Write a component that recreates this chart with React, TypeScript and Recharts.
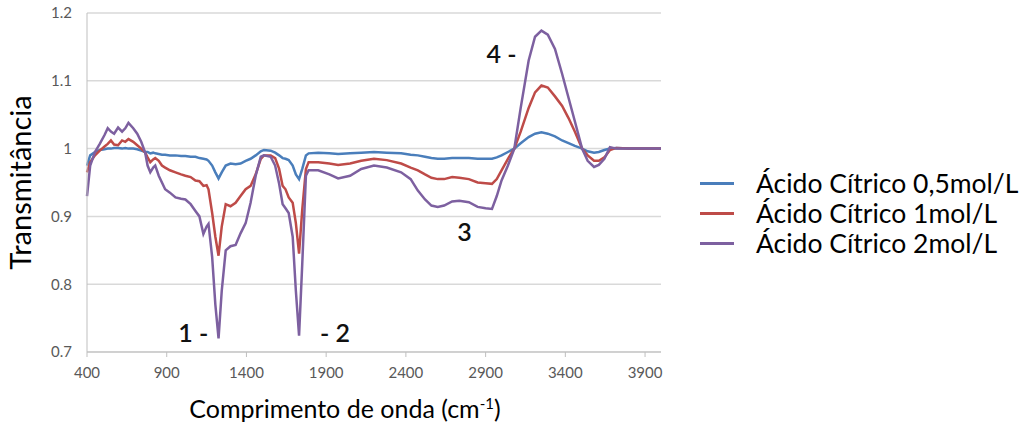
import { LineChart, Line, XAxis, YAxis, CartesianGrid, ReferenceDot } from "recharts"

// wavenumber grid (cm-1)
const wavenumbers = [
  400, 420, 450, 480, 510, 530, 550, 570, 595, 620, 640, 660, 690, 715, 740, 765, 780, 797, 815, 828,
  850, 870, 890, 920, 955, 990, 1017, 1050, 1080, 1105, 1130, 1150, 1162, 1185, 1205, 1225, 1245, 1270, 1300, 1332,
  1363, 1395, 1426, 1458, 1490, 1510, 1552, 1580, 1605, 1627, 1645, 1665, 1690, 1710, 1730, 1750, 1773, 1790, 1850, 1920,
  1975, 2050, 2120, 2200, 2280, 2370, 2430, 2475, 2520, 2560, 2600, 2640, 2690, 2735, 2795, 2850, 2900, 2940, 2970, 3000,
  3040, 3080, 3120, 3170, 3210, 3250, 3290, 3335, 3380, 3420, 3460, 3505, 3540, 3580, 3610, 3645, 3680, 3720, 3800, 3900,
  4000,
]

const acido05 = [
  0.975, 0.99, 0.995, 0.998, 0.999, 1.0, 1.0, 1.001, 1.001, 1.0, 1.001, 1.0, 1.0, 0.999, 0.997, 0.995, 0.995, 0.993, 0.994, 0.993,
  0.992, 0.991, 0.991, 0.99, 0.99, 0.989, 0.989, 0.988, 0.988, 0.986, 0.985, 0.984, 0.982, 0.975, 0.965, 0.956, 0.965, 0.975, 0.978, 0.977,
  0.978, 0.982, 0.985, 0.99, 0.996, 0.998, 0.997, 0.994, 0.99, 0.986, 0.985, 0.983, 0.975, 0.962, 0.955, 0.97, 0.99, 0.993, 0.994, 0.993,
  0.992, 0.993, 0.994, 0.995, 0.994, 0.993, 0.991, 0.99, 0.988, 0.986, 0.985, 0.985, 0.986, 0.986, 0.986, 0.985, 0.985, 0.985, 0.987, 0.99,
  0.995, 1.0, 1.008, 1.017, 1.022, 1.024, 1.022, 1.018, 1.012, 1.008, 1.004, 1.0, 0.996, 0.994, 0.995, 0.998, 1.0, 1.001, 1.0, 1.0,
  1.0,
]

const acido1 = [
  0.965, 0.98, 0.99, 0.997, 1.003, 1.007, 1.012, 1.006, 1.005, 1.012, 1.01, 1.014, 1.01, 1.005, 1.0, 0.994, 0.987, 0.98, 0.984, 0.986,
  0.982, 0.975, 0.972, 0.968, 0.965, 0.962, 0.96, 0.958, 0.953, 0.952, 0.945, 0.946, 0.94, 0.905, 0.87, 0.842, 0.885, 0.918, 0.915, 0.92,
  0.93, 0.94, 0.945, 0.962, 0.985, 0.99, 0.99, 0.986, 0.97, 0.945, 0.94, 0.928, 0.92, 0.89, 0.845, 0.91, 0.97, 0.98, 0.98, 0.978,
  0.976, 0.978, 0.982, 0.985, 0.983, 0.978, 0.972, 0.968, 0.962, 0.957, 0.955, 0.955, 0.958, 0.957, 0.955, 0.95, 0.949, 0.948, 0.955, 0.968,
  0.985, 1.0, 1.025, 1.06, 1.083, 1.093, 1.09, 1.077, 1.063, 1.045, 1.025, 1.0, 0.99, 0.982, 0.982, 0.987, 0.998, 1.001, 1.0, 1.0,
  1.0,
]

const acido2 = [
  0.93, 0.975, 0.995, 1.007, 1.02, 1.03, 1.025, 1.022, 1.031, 1.025, 1.03, 1.038, 1.03, 1.022, 1.01, 0.994, 0.975, 0.965, 0.972, 0.975,
  0.96, 0.95, 0.94, 0.935, 0.928, 0.926, 0.925, 0.918, 0.908, 0.9, 0.874, 0.885, 0.889, 0.84, 0.77, 0.72, 0.79, 0.85, 0.856, 0.858,
  0.875, 0.89, 0.92, 0.96, 0.988, 0.99, 0.988, 0.975, 0.948, 0.918, 0.912, 0.905, 0.87, 0.79, 0.724, 0.83, 0.96, 0.968, 0.968, 0.962,
  0.956, 0.96, 0.97, 0.975, 0.972, 0.965, 0.955, 0.938, 0.925, 0.916, 0.914, 0.916, 0.922, 0.923, 0.921, 0.914, 0.912, 0.911, 0.93, 0.953,
  0.975, 1.0, 1.06, 1.13, 1.165, 1.174, 1.168, 1.147, 1.11, 1.075, 1.04, 1.0, 0.982, 0.973, 0.976, 0.985, 1.002, 1.0, 1.0, 1.0,
  1.0,
]

const xTicks = [400, 900, 1400, 1900, 2400, 2900, 3400, 3900]
const yTicks = [0.7, 0.8, 0.9, 1, 1.1, 1.2]

const seriesNames = ["Ácido Cítrico 0,5mol/L", "Ácido Cítrico 1mol/L", "Ácido Cítrico 2mol/L"]
const seriesColors = ["#4a7ebb", "#be4b48", "#7d60a0"]

// band labels placed in data coordinates
const bandWn = [1067, 1955, 2768, 3000]
const bandT = [0.728, 0.728, 0.877, 1.14]
const bandText = ["1 -", "- 2", "3", "4 -"]

const data = wavenumbers.map((wn, i) => ({
  wn,
  s0: acido05[i],
  s1: acido1[i],
  s2: acido2[i],
}))

const FONT = "Lato, 'Open Sans', sans-serif"

function XTitle() {
  return (
    <text x={345} y={418} textAnchor="middle" fontFamily={FONT} fontSize={25} fill="#000">
      Comprimento de onda (cm
      <tspan baselineShift="super" fontSize={15}>-1</tspan>
      <tspan>)</tspan>
    </text>
  )
}

function LegendBox() {
  return (
    <div
      style={{
        position: "absolute",
        left: 700,
        top: 168,
        width: 326,
        fontFamily: FONT,
      }}
    >
      {seriesNames.map((name, i) => (
        <div key={name} style={{ display: "flex", alignItems: "center", height: 30 }}>
          <div style={{ width: 34, height: 3, background: seriesColors[i], marginRight: 22 }} />
          <span style={{ fontSize: 26.5, color: "#000", whiteSpace: "nowrap", lineHeight: "30px" }}>{name}</span>
        </div>
      ))}
    </div>
  )
}

export default function App() {
  return (
    <div style={{ position: "absolute", left: 0, top: 0, width: 1026, height: 429, background: "#fff" }}>
      <LineChart width={1026} height={429} data={data} margin={{ top: 13, right: 365, bottom: 47, left: 0 }}>
        <CartesianGrid vertical={false} stroke="#d9d9d9" strokeWidth={1.5} />
        <XAxis
          dataKey="wn"
          type="number"
          domain={[400, 4000]}
          ticks={xTicks}
          height={30}
          stroke="#bfbfbf"
          tickSize={5}
          tickMargin={10}
          tick={{ fill: "#595959", fontSize: 15, fontFamily: FONT }}
          label={<XTitle />}
        />
        <YAxis
          type="number"
          domain={[0.7, 1.2]}
          ticks={yTicks}
          width={87}
          stroke="#bfbfbf"
          tickLine={false}
          tickSize={6}
          tickMargin={9}
          tick={{ fill: "#595959", fontSize: 15, fontFamily: FONT }}
          label={{
            value: "Transmitância",
            angle: -90,
            position: "insideLeft",
            offset: 21,
            style: { textAnchor: "middle", fontFamily: FONT, fontSize: 29, fill: "#000" },
          }}
        />
        {["s0", "s1", "s2"].map((key, i) => (
          <Line
            key={key}
            dataKey={key}
            name={seriesNames[i]}
            type="linear"
            stroke={seriesColors[i]}
            strokeWidth={2.5}
            dot={false}
            isAnimationActive={false}
          />
        ))}
        {bandText.map((t, i) => (
          <ReferenceDot
            key={t}
            x={bandWn[i]}
            y={bandT[i]}
            r={0}
            fill="none"
            stroke="none"
            label={{ value: t, position: "center", fontSize: 25, fontWeight: 600, fill: "#111", fontFamily: FONT }}
          />
        ))}
      </LineChart>
      <LegendBox />
    </div>
  )
}
